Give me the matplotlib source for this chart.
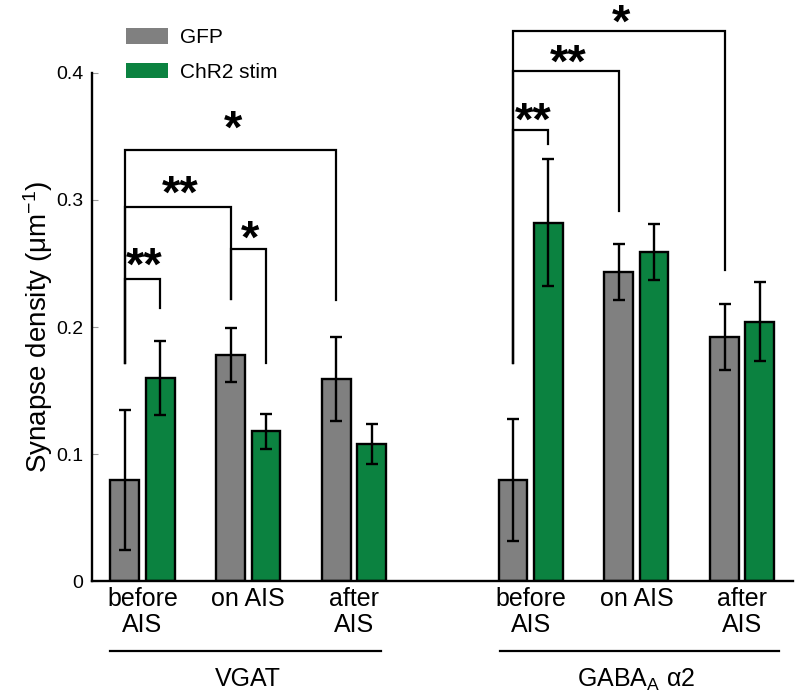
import matplotlib
matplotlib.use('Agg')
import matplotlib.pyplot as plt
from matplotlib.patches import Patch
import numpy as np

plt.rcParams['font.family'] = ['Liberation Sans', 'DejaVu Sans']
plt.rcParams['mathtext.fontset'] = 'custom'
plt.rcParams['mathtext.rm'] = 'Liberation Sans'
plt.rcParams['mathtext.it'] = 'Liberation Sans:italic'

categories = ['before\nAIS', 'on AIS', 'after\nAIS']
groups = ['VGAT', 'GABA$_\\mathrm{A}$ α2']

# means and s.e.m.
vgat_gfp = [0.080, 0.178, 0.159]
vgat_gfp_err = [0.055, 0.021, 0.033]
vgat_chr2 = [0.160, 0.118, 0.108]
vgat_chr2_err = [0.029, 0.014, 0.016]

gaba_gfp = [0.080, 0.243, 0.192]
gaba_gfp_err = [0.048, 0.022, 0.026]
gaba_chr2 = [0.282, 0.259, 0.204]
gaba_chr2_err = [0.050, 0.022, 0.031]

# significance brackets:
# (start, end, bar height, left drop, right drop, label, label centre)
# start/end = (group, category, series), series 0 = GFP, 1 = ChR2
vgat_sig = [
    ((0, 0, 0), (0, 0, 1), 0.238, 0.172, 0.215, '**', 0.253),
    ((0, 0, 0), (0, 1, 0), 0.294, 0.172, 0.222, '**', 0.309),
    ((0, 1, 0), (0, 1, 1), 0.261, 0.222, 0.172, '*', 0.274),
    ((0, 0, 0), (0, 2, 0), 0.339, 0.172, 0.221, '*', 0.360),
]
gaba_sig = [
    ((1, 0, 0), (1, 0, 1), 0.355, 0.172, 0.344, '**', 0.367),
    ((1, 0, 0), (1, 1, 0), 0.401, 0.172, 0.291, '**', 0.412),
    ((1, 0, 0), (1, 2, 0), 0.433, 0.172, 0.245, '*', 0.444),
]

GRAY = '#808080'
GREEN = '#0b8240'
width = 0.272
offset = 0.167
group_start = [0.0, 3.67]


def xpos(g, c, s):
    return group_start[g] + c + (offset if s else -offset)


fig = plt.figure(figsize=(7.96, 6.92), dpi=100)
ax = fig.add_axes([0.1152, 0.1597, 0.881, 0.7355])

for g, (gfp, gerr, chr2, cerr) in enumerate([
        (vgat_gfp, vgat_gfp_err, vgat_chr2, vgat_chr2_err),
        (gaba_gfp, gaba_gfp_err, gaba_chr2, gaba_chr2_err)]):
    x = group_start[g] + np.arange(len(categories))
    ekw = dict(elinewidth=1.7, capsize=4.5, capthick=1.7, ecolor='black')
    ax.bar(x - offset, gfp, width, yerr=gerr, color=GRAY,
           edgecolor='black', linewidth=1.7, error_kw=ekw)
    ax.bar(x + offset, chr2, width, yerr=cerr, color=GREEN,
           edgecolor='black', linewidth=1.7, error_kw=ekw)

for a, b, h, dl, dr, lab, ly in vgat_sig + gaba_sig:
    x1, x2 = xpos(*a), xpos(*b)
    ax.plot([x1, x1, x2, x2], [dl, h, h, dr], color='black', lw=1.6,
            clip_on=False, solid_joinstyle='miter')
    ax.text((x1 + x2) / 2 + 0.02, ly - 0.0155, lab, ha='center', va='baseline',
            fontsize=34, fontweight='bold', clip_on=False)

ax.set_xlim(-0.48, 6.15)
ax.set_ylim(0, 0.4)
ax.set_yticks([0, 0.1, 0.2, 0.3, 0.4])
ax.set_yticklabels(['0', '0.1', '0.2', '0.3', '0.4'], fontsize=14)
ax.tick_params(axis='y', direction='in', length=4, width=0.8, color='#999999', pad=6)

xt = [group_start[g] + c for g in range(2) for c in range(3)]
ax.set_xticks(xt)
ax.set_xticklabels(categories * 2, fontsize=18, linespacing=1.1)
ax.tick_params(axis='x', length=0, pad=4)

ax.spines['top'].set_visible(False)
ax.spines['right'].set_visible(False)
ax.spines['left'].set_linewidth(1.7)
ax.spines['bottom'].set_linewidth(1.7)

ax.set_ylabel('Synapse density (μm$^{-1}$)', fontsize=20, labelpad=1)

# group underlines and names
for (xa, xb), name, xc in zip([(-0.307, 2.254), (3.383, 6.02)], groups,
                              [1.0, group_start[1] + 1]):
    ax.plot([xa, xb], [-0.055, -0.055], color='black', lw=1.6, clip_on=False)
    ax.text(xc, -0.077, name, ha='center', va='center', fontsize=18)

handles = [Patch(facecolor=GRAY, edgecolor='none', label='GFP'),
           Patch(facecolor=GREEN, edgecolor='none', label='ChR2 stim')]
fig.legend(handles=handles, loc='upper left', bbox_to_anchor=(0.148, 0.972),
           frameon=False, fontsize=15, handlelength=2.0, handleheight=0.8,
           handletextpad=0.6, labelspacing=0.75, borderaxespad=0)

fig.savefig('out.png', dpi=100)
